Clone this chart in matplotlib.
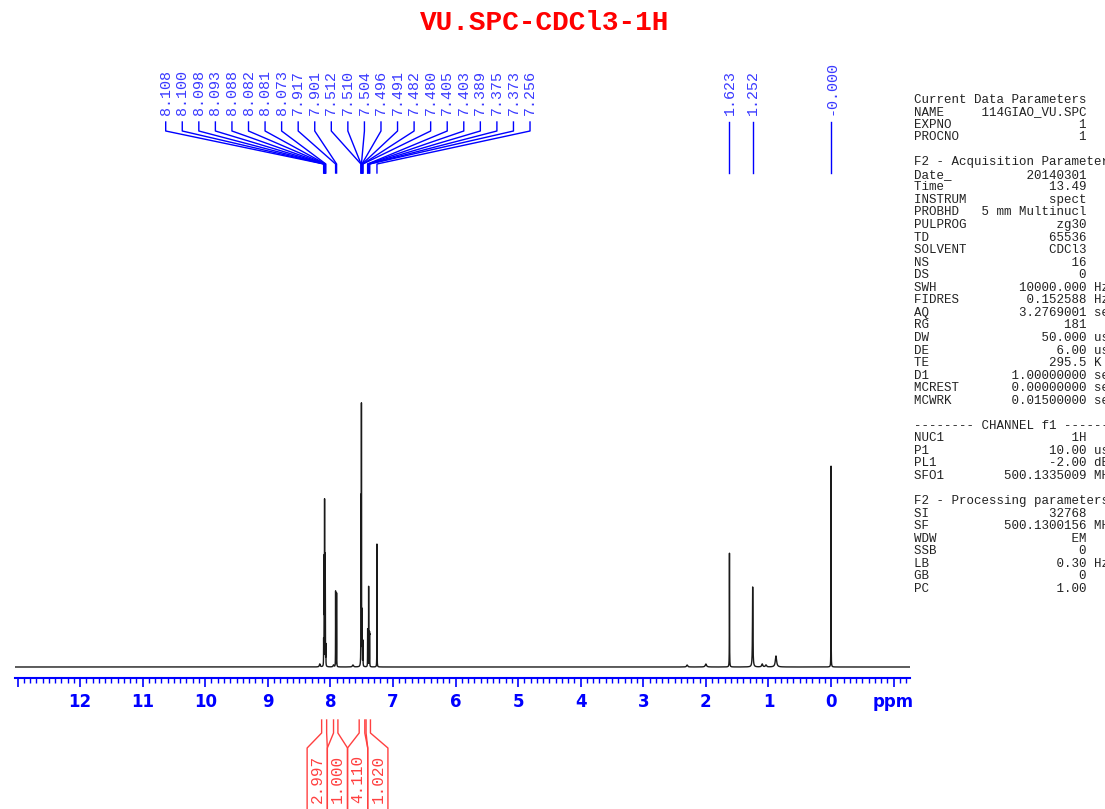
import numpy as np
import matplotlib.pyplot as plt
from matplotlib.ticker import MultipleLocator

# 1H NMR spectrum VU.SPC in CDCl3

# picked peaks: shift (ppm), height (arbitrary units), half width (ppm)
peak_ppm = [8.108, 8.100, 8.098, 8.093, 8.088, 8.082, 8.081, 8.073,
            7.917, 7.901,
            7.512, 7.510, 7.504, 7.496, 7.491, 7.482, 7.480,
            7.405, 7.403, 7.389, 7.375, 7.373,
            7.256, 1.623, 1.252, 0.000]
peak_height = [25, 80, 80, 155, 100, 55, 50, 20,
               76, 74,
               120, 130, 255, 50, 35, 20, 18,
               30, 28, 80, 28, 25,
               123, 114, 80, 201]
peak_width = [0.0012] * 22 + [0.0012, 0.0016, 0.004, 0.0012]

# small unlabelled bumps (impurities / grease)
minor_ppm = [8.17, 7.95, 7.64, 2.30, 2.00, 1.10, 1.04, 0.88]
minor_height = [3, 2, 2, 2, 3, 3, 2, 11]
minor_width = [0.008, 0.008, 0.01, 0.01, 0.012, 0.01, 0.01, 0.012]

# peak labels over the spectrum
left_labels = ['8.108', '8.100', '8.098', '8.093', '8.088', '8.082', '8.081', '8.073',
               '7.917', '7.901', '7.512', '7.510', '7.504', '7.496', '7.491', '7.482',
               '7.480', '7.405', '7.403', '7.389', '7.375', '7.373', '7.256']
right_labels = ['1.623', '1.252', '-0.000']
right_ppm = [1.623, 1.252, 0.000]

# integrals under the axis
integral_from = [8.14, 7.95, 7.54, 7.43]
integral_to = [8.06, 7.88, 7.45, 7.36]
integral_value = ['2.997', '1.000', '4.110', '1.020']

# acquisition / processing parameters (name, value, unit)
params = [
    ('Current Data Parameters', '', ''),
    ('NAME', '114GIAO_VU.SPC', ''),
    ('EXPNO', '1', ''),
    ('PROCNO', '1', ''),
    ('', '', ''),
    ('F2 - Acquisition Parameters', '', ''),
    ('Date_', '20140301', ''),
    ('Time', '13.49', ''),
    ('INSTRUM', 'spect', ''),
    ('PROBHD', '5 mm Multinucl', ''),
    ('PULPROG', 'zg30', ''),
    ('TD', '65536', ''),
    ('SOLVENT', 'CDCl3', ''),
    ('NS', '16', ''),
    ('DS', '0', ''),
    ('SWH', '10000.000', 'Hz'),
    ('FIDRES', '0.152588', 'Hz'),
    ('AQ', '3.2769001', 'sec'),
    ('RG', '181', ''),
    ('DW', '50.000', 'usec'),
    ('DE', '6.00', 'usec'),
    ('TE', '295.5', 'K'),
    ('D1', '1.00000000', 'sec'),
    ('MCREST', '0.00000000', 'sec'),
    ('MCWRK', '0.01500000', 'sec'),
    ('', '', ''),
    ('-------- CHANNEL f1 --------', '', ''),
    ('NUC1', '1H', ''),
    ('P1', '10.00', 'usec'),
    ('PL1', '-2.00', 'dB'),
    ('SFO1', '500.1335009', 'MHz'),
    ('', '', ''),
    ('F2 - Processing parameters', '', ''),
    ('SI', '32768', ''),
    ('SF', '500.1300156', 'MHz'),
    ('WDW', 'EM', ''),
    ('SSB', '0', ''),
    ('LB', '0.30', 'Hz'),
    ('GB', '0', ''),
    ('PC', '1.00', ''),
]

W, H = 1105, 809
fig = plt.figure(figsize=(W / 100, H / 100), dpi=100)
ax = fig.add_axes([15 / W, 1 - 678 / H, (910 - 15) / W, (678 - 380) / H])

# build spectrum from lorentzian lines
x = np.linspace(13.05, -1.27, 60000)
y = np.zeros_like(x)
for p, h, w in zip(peak_ppm + minor_ppm, peak_height + minor_height, peak_width + minor_width):
    y += h * w**2 / ((x - p)**2 + w**2)
ax.plot(x, y, color='#1a1a1a', lw=1.0)

ax.set_xlim(13.04, -1.262)
ax.set_ylim(-11, 287)
for s in ['left', 'right', 'top']:
    ax.spines[s].set_visible(False)
ax.spines['bottom'].set_color('blue')
ax.spines['bottom'].set_linewidth(1.5)
ax.set_yticks([])
majors = np.arange(-1, 14)
ax.set_xticks(majors)
ax.set_xticklabels(['ppm' if m == -1 else ('' if m == 13 else str(m)) for m in majors],
                   fontweight='bold', fontfamily='DejaVu Sans')
ax.xaxis.set_minor_locator(MultipleLocator(0.1))
ax.tick_params(axis='x', which='major', direction='out', length=6.5, width=1.2,
               color='blue', labelcolor='blue', labelsize=12, pad=4)
ax.tick_params(axis='x', which='minor', direction='out', length=3.5, width=1.0, color='blue')

# overlay in pixel coordinates for the annotations
ov = fig.add_axes([0, 0, 1, 1])
ov.set_xlim(0, W)
ov.set_ylim(H, 0)
ov.axis('off')


def px(ppm):
    return ax.transData.transform((ppm, 0))[0]


mono = 'Liberation Mono'
label_start, label_step = 165.7, 16.56
for i, (lab, p) in enumerate(zip(left_labels, peak_ppm[:23])):
    lx = label_start + i * label_step
    xp = px(p)
    ov.plot([lx, lx, xp, xp], [122, 131, 164, 173], color='blue', lw=1)
    ov.text(lx, 115, lab, rotation=90, ha='center', va='bottom',
            family=mono, fontsize=10.8, color='#3a3aff')
for lab, p in zip(right_labels, right_ppm):
    xp = px(p)
    ov.plot([xp, xp], [122, 173], color='blue', lw=1)
    ov.text(xp, 115, lab, rotation=90, ha='center', va='bottom',
            family=mono, fontsize=10.8, color='#3a3aff')

# integral brackets
centers = [(px(a) + px(b)) / 2 for a, b in zip(integral_from, integral_to)]
mid = np.mean(centers)
box = 20.2
for i, (a, b, v) in enumerate(zip(integral_from, integral_to, integral_value)):
    c = mid + (i - 1.5) * box
    ov.plot([px(a), px(a), c - box / 2, c - box / 2], [720, 733, 748, 809], color='#ff4040', lw=1)
    ov.plot([px(b), px(b), c + box / 2, c + box / 2], [720, 733, 748, 809], color='#ff4040', lw=1)
    ov.text(c, 803, v, rotation=90, ha='center', va='bottom',
            family=mono, fontsize=11.5, color='#ff4040')

fig.text(545 / W, 1 - 23 / H, 'VU.SPC-CDCl3-1H', ha='center', va='center',
         color='red', fontweight='bold', family=mono, fontsize=20)

# parameter listing on the right (cut at the page edge as in the printout)
for k, (name, val, unit) in enumerate(params):
    line = name
    if val:
        line = name + val.rjust(23 - len(name))
    if unit:
        line += ' ' + unit
    ov.text(914, 99.5 + k * 12.55, line, va='center', ha='left',
            family=mono, fontsize=9, color='#222222')

fig.savefig('out.png', dpi=100)
